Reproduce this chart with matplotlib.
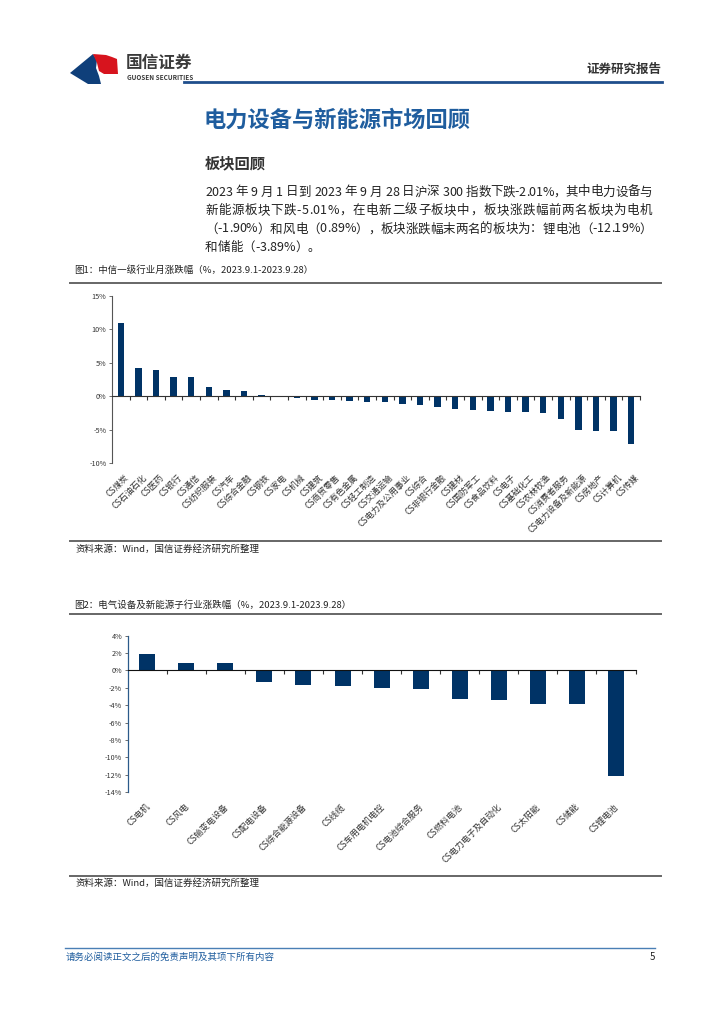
import numpy as np
import matplotlib
matplotlib.use("Agg")
import matplotlib.pyplot as plt
from matplotlib.patches import Polygon
from matplotlib.lines import Line2D

plt.rcParams['font.family'] = ['Noto Sans CJK SC', 'DejaVu Sans']
plt.rcParams['axes.unicode_minus'] = False

# --- DATA ---
ind_names = ["CS煤炭", "CS石油石化", "CS医药", "CS银行", "CS通信", "CS纺织服装", "CS汽车",
             "CS综合金融", "CS钢铁", "CS家电", "CS机械", "CS建筑", "CS商贸零售", "CS有色金属",
             "CS轻工制造", "CS交通运输", "CS电力及公用事业", "CS综合", "CS非银行金融", "CS建材",
             "CS国防军工", "CS食品饮料", "CS电子", "CS基础化工", "CS农林牧渔", "CS消费者服务",
             "CS电力设备及新能源", "CS房地产", "CS计算机", "CS传媒"]
ind_chg = [11.0, 4.15, 3.9, 2.8, 2.8, 1.45, 1.0, 0.8, 0.25, 0.1, -0.25, -0.55, -0.6, -0.65,
           -0.9, -0.9, -1.1, -1.35, -1.65, -1.95, -2.1, -2.25, -2.3, -2.3, -2.5, -3.45,
           -5.01, -5.25, -5.25, -7.05]
ind_yticks = [15, 10, 5, 0, -5, -10]

sub_names = ["CS电机", "CS风电", "CS输变电设备", "CS配电设备", "CS综合能源设备", "CS线缆",
             "CS车用电机电控", "CS电池综合服务", "CS燃料电池", "CS电力电子及自动化", "CS太阳能",
             "CS储能", "CS锂电池"]
sub_chg = [1.9, 0.89, 0.8, -1.3, -1.7, -1.85, -2.04, -2.19, -3.3, -3.35, -3.88, -3.89, -12.19]
sub_yticks = [4, 2, 0, -2, -4, -6, -8, -10, -12, -14]

para = ["2023 年 9 月 1 日到 2023 年 9 月 28 日沪深 300 指数下跌-2.01%，其中电力设备与",
        "新能源板块下跌-5.01%，在电新二级子板块中，板块涨跌幅前两名板块为电机",
        "（-1.90%）和风电（0.89%），板块涨跌幅末两名的板块为：锂电池（-12.19%）",
        "和储能（-3.89%）。"]

W, H = 724, 1024
BAR = "#003366"
NAVY = "#1F4E8C"

fig = plt.figure(figsize=(W / 100, H / 100), dpi=100)
renderer = fig.canvas.get_renderer()


def fx(x):
    return x / W


def fy(y):
    return 1 - y / H


def hline(x0, x1, y, color, lw):
    fig.add_artist(Line2D([fx(x0), fx(x1)], [fy(y), fy(y)], color=color, lw=lw,
                          transform=fig.transFigure))


def justified(line, x0, x1, y, fs, justify=True):
    # one text per character so the line can be spread like the justified original
    parts = [fig.text(0, fy(y), ch, fontsize=fs, color="#222222", va="center", ha="left")
             for ch in line]
    widths = [t.get_window_extent(renderer).width if ch != " " else fs * 100 / 72 * 0.28
              for t, ch in zip(parts, line)]
    gap = ((x1 - x0) - sum(widths)) / (len(line) - 1) if justify else 0
    x = x0
    for t, w in zip(parts, widths):
        t.set_x(fx(x))
        x += w + gap


# --- HEADER ---
blue_logo = [(70, 73), (93, 54), (97, 60), (96, 68), (99, 76), (101, 84), (88, 84)]
red_logo = [(93, 54), (106, 55), (112, 57), (117, 59), (118, 74), (104, 74), (99, 71), (97, 63)]
fig.add_artist(Polygon([(fx(a), fy(b)) for a, b in blue_logo], closed=True,
                       facecolor="#0F3F7A", edgecolor="none", transform=fig.transFigure))
fig.add_artist(Polygon([(fx(a), fy(b)) for a, b in red_logo], closed=True,
                       facecolor="#D7141E", edgecolor="none", transform=fig.transFigure))
fig.text(fx(126), fy(63), "国信证券", fontsize=12, fontweight="bold", color="#3A3A3A",
         va="center", ha="left")
fig.text(fx(127), fy(78), "GUOSEN SECURITIES", fontsize=4.6, fontweight="bold",
         color="#3A3A3A", va="center", ha="left")
hline(184, 662, 82, NAVY, 2.0)
fig.text(fx(661), fy(69), "证券研究报告", fontsize=9, fontweight="bold", color="#333333",
         ha="right", va="center")

# --- TITLE & TEXT ---
fig.text(fx(204), fy(120), "电力设备与新能源市场回顾", fontsize=16, fontweight="bold",
         color="#1F5D9E", va="center", ha="left")
fig.text(fx(205), fy(163), "板块回顾", fontsize=11, fontweight="bold", color="#333333",
         va="center", ha="left")
for i, line in enumerate(para):
    justified(line, 205, 652, 192 + i * 18.5, 9.0, justify=(i < len(para) - 1))

# --- FIGURE 1 ---
fig.text(fx(74), fy(270), "图1：中信一级行业月涨跌幅（%，2023.9.1-2023.9.28）", fontsize=6.8,
         color="#222222", va="center", ha="left")
hline(70, 661, 283, "#666666", 1.4)

ax1 = fig.add_axes([fx(112), fy(463.3), (640 - 112) / W, (463.3 - 295.7) / H])
x1 = np.arange(len(ind_names))
ax1.bar(x1, ind_chg, width=0.36, color=BAR, edgecolor="none", zorder=2)
ax1.set_xlim(-0.5, len(ind_names) - 0.5)
ax1.set_ylim(-10, 15)
ax1.set_yticks(ind_yticks)
ax1.set_yticklabels([f"{v}%" for v in ind_yticks], fontsize=5.2, color="#333333")
ax1.set_xticks(np.arange(1, len(ind_names) + 1) - 0.5)
ax1.set_xticklabels([])
for s in ["top", "right"]:
    ax1.spines[s].set_visible(False)
ax1.spines["bottom"].set_position(("data", 0))
ax1.spines["bottom"].set_color("#333333")
ax1.spines["left"].set_color("#555555")
ax1.spines["left"].set_linewidth(0.8)
ax1.tick_params(axis="x", length=3, width=0.8, color="#333333", direction="out")
ax1.tick_params(axis="y", length=2.5, width=0.6, color="#555555", pad=1.5)
for i, name in enumerate(ind_names):
    ax1.text(i + 0.2, -0.055, name, transform=ax1.get_xaxis_transform(), rotation=45,
             rotation_mode="anchor", ha="right", va="top", fontsize=6.1, color="#333333")
hline(70, 661, 541, "#666666", 1.4)
fig.text(fx(75), fy(549), "资料来源：Wind，国信证券经济研究所整理", fontsize=6.8,
         color="#222222", va="center", ha="left")

# --- FIGURE 2 ---
fig.text(fx(74), fy(605), "图2：电气设备及新能源子行业涨跌幅（%，2023.9.1-2023.9.28）",
         fontsize=6.8, color="#222222", va="center", ha="left")
hline(70, 661, 614, "#666666", 1.4)

ax2 = fig.add_axes([fx(127.7), fy(792), (635.5 - 127.7) / W, (792 - 635.7) / H])
x2 = np.arange(len(sub_names))
ax2.bar(x2, sub_chg, width=0.41, color=BAR, edgecolor="none", zorder=2)
ax2.set_xlim(-0.5, len(sub_names) - 0.5)
ax2.set_ylim(-14, 4)
ax2.set_yticks(sub_yticks)
ax2.set_yticklabels([f"{v}%" for v in sub_yticks], fontsize=5.2, color="#333333")
ax2.set_xticks(np.arange(1, len(sub_names) + 1) - 0.5)
ax2.set_xticklabels([])
for s in ["top", "right"]:
    ax2.spines[s].set_visible(False)
ax2.spines["bottom"].set_position(("data", 0))
ax2.spines["bottom"].set_color("#111111")
ax2.spines["left"].set_color("#2B5A8A")
ax2.spines["left"].set_linewidth(0.9)
ax2.tick_params(axis="x", length=3, width=0.8, color="#333333", direction="out")
ax2.tick_params(axis="y", length=2.5, width=0.6, color="#555555", pad=1.5)
for i, name in enumerate(sub_names):
    ax2.text(i - 0.05, -0.064, name, transform=ax2.get_xaxis_transform(), rotation=45,
             rotation_mode="anchor", ha="right", va="top", fontsize=6.2, color="#333333")
hline(70, 661, 876, "#666666", 1.4)
fig.text(fx(75), fy(883), "资料来源：Wind，国信证券经济研究所整理", fontsize=6.8,
         color="#222222", va="center", ha="left")

# --- FOOTER ---
hline(65, 655, 948, "#4A7FB5", 1.0)
fig.text(fx(66), fy(957), "请务必阅读正文之后的免责声明及其项下所有内容", fontsize=6.8,
         style="italic", color="#1F5D9E", va="center", ha="left")
fig.text(fx(652), fy(957), "5", fontsize=7, color="#222222", va="center", ha="center")

fig.savefig("out.png", dpi=100)
